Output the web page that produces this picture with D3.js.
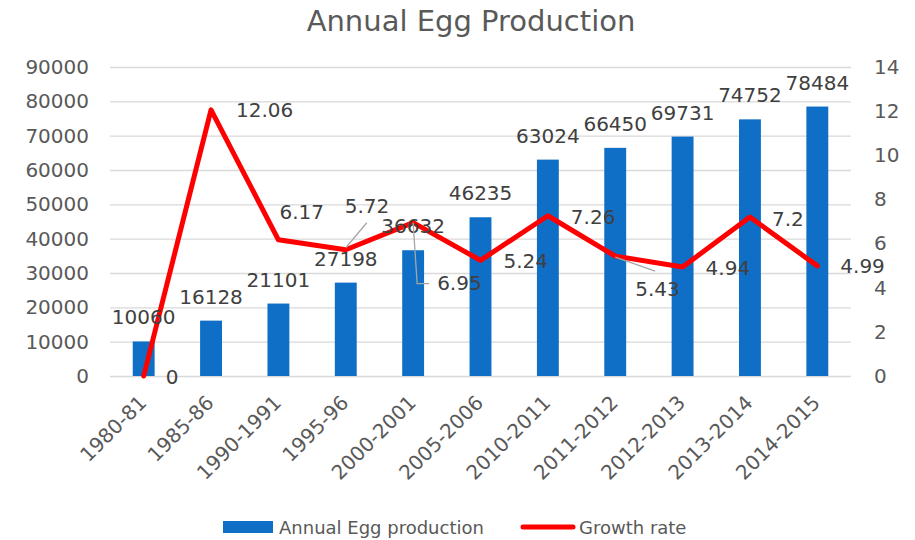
<!DOCTYPE html>
<html>
<head>
<meta charset="utf-8">
<script src="https://cdn.jsdelivr.net/npm/d3@7"></script>
<style>
  body { margin: 0; background: #fff; }
  svg text { font-family: "DejaVu Sans", sans-serif; }
</style>
</head>
<body>
<svg></svg>
<script>
var categories = ["1980-81", "1985-86", "1990-1991", "1995-96", "2000-2001", "2005-2006",
  "2010-2011", "2011-2012", "2012-2013", "2013-2014", "2014-2015"];
var eggProduction = [10060, 16128, 21101, 27198, 36632, 46235, 63024, 66450, 69731, 74752, 78484];
var growthRate = [0, 12.06, 6.17, 5.72, 6.95, 5.24, 7.26, 5.43, 4.94, 7.2, 4.99];
var leftTicks = [0, 10000, 20000, 30000, 40000, 50000, 60000, 70000, 80000, 90000];
var rightTicks = [0, 2, 4, 6, 8, 10, 12, 14];

var svgWidth = 915,
  svgHeight = 540,
  plotLeft = 110,
  plotRight = 851,
  plotTop = 67,
  plotBottom = 376;

// where each growth label sits relative to its point: [dx, dy, leader points]
var growthLabelPos = [
  [22, 1], [25, 0], [1, -28],
  [-1, -44, [[0, -2], [21, -27]]],
  [24, 60, [[0, 0], [4, 61], [16, 61]]],
  [23, 0], [23, 1],
  [20, 33, [[0, 1], [40, 15]]],
  [23, 1], [22, 2], [23, 0]
];

var svg = d3.select("svg").attr("width", svgWidth).attr("height", svgHeight);

var x = d3.scaleBand().domain(categories).range([plotLeft, plotRight]);
var yLeft = d3.scaleLinear().domain([0, 90000]).range([plotBottom, plotTop]);
var yRight = d3.scaleLinear().domain([0, 14]).range([plotBottom, plotTop]);
var barWidth = x.bandwidth() * 0.325;
var cx = function (i) { return x(categories[i]) + x.bandwidth() / 2; };

// title
svg.append("text")
  .attr("x", 471)
  .attr("y", 31)
  .attr("text-anchor", "middle")
  .attr("font-size", 29)
  .attr("fill", "#595959")
  .text("Annual Egg Production");

// gridlines
svg.append("g")
  .attr("transform", "translate(" + plotLeft + ",0)")
  .call(d3.axisLeft(yLeft).tickValues(leftTicks).tickSize(-(plotRight - plotLeft)).tickFormat(""))
  .call(function (g) { g.select(".domain").remove(); })
  .selectAll("line")
  .attr("stroke", "#d9d9d9")
  .attr("stroke-width", 1.3);

// left axis
var leftAxis = svg.append("g")
  .attr("transform", "translate(" + plotLeft + ",0)")
  .call(d3.axisLeft(yLeft).tickValues(leftTicks).tickSize(0).tickPadding(21).tickFormat(d3.format("d")));
leftAxis.select(".domain").remove();
leftAxis.selectAll("text").attr("font-size", 20).attr("fill", "#595959").attr("font-family", null);

// right axis
var rightAxis = svg.append("g")
  .attr("transform", "translate(" + plotRight + ",0)")
  .call(d3.axisRight(yRight).tickValues(rightTicks).tickSize(0).tickPadding(23));
rightAxis.select(".domain").remove();
rightAxis.selectAll("text").attr("font-size", 20).attr("fill", "#595959").attr("font-family", null);

// category labels, turned 45 degrees
svg.selectAll(".cat")
  .data(categories)
  .enter()
  .append("text")
  .attr("class", "cat")
  .attr("text-anchor", "end")
  .attr("font-size", 20)
  .attr("fill", "#595959")
  .attr("transform", function (d, i) {
    return "translate(" + (cx(i) + 4) + "," + (plotBottom + 28) + ") rotate(-45)";
  })
  .text(function (d) { return d; });

// bars
svg.selectAll(".bar")
  .data(eggProduction)
  .enter()
  .append("rect")
  .attr("class", "bar")
  .attr("x", function (d, i) { return cx(i) - barWidth / 2; })
  .attr("y", function (d) { return yLeft(d); })
  .attr("width", barWidth)
  .attr("height", function (d) { return plotBottom - yLeft(d); })
  .attr("fill", "#0f6fc6");

// growth line
var line = d3.line()
  .x(function (d, i) { return cx(i); })
  .y(function (d) { return yRight(d); });

svg.append("path")
  .datum(growthRate)
  .attr("d", line)
  .attr("fill", "none")
  .attr("stroke", "#ff0000")
  .attr("stroke-width", 5)
  .attr("stroke-linejoin", "round")
  .attr("stroke-linecap", "round");

// bar labels
svg.selectAll(".barLabel")
  .data(eggProduction)
  .enter()
  .append("text")
  .attr("class", "barLabel")
  .attr("x", function (d, i) { return cx(i); })
  .attr("y", function (d) { return yLeft(d) - 17; })
  .attr("text-anchor", "middle")
  .attr("font-size", 20)
  .attr("fill", "#404040")
  .text(function (d) { return d; });

// leader lines for moved growth labels
growthRate.forEach(function (d, i) {
  var pts = growthLabelPos[i][2];
  if (!pts) return;
  svg.append("polyline")
    .attr("points", pts.map(function (p) { return [cx(i) + p[0], yRight(d) + p[1]]; }).join(" "))
    .attr("fill", "none")
    .attr("stroke", "#a6a6a6")
    .attr("stroke-width", 1.3);
});

// growth labels
svg.selectAll(".rateLabel")
  .data(growthRate)
  .enter()
  .append("text")
  .attr("class", "rateLabel")
  .attr("x", function (d, i) { return cx(i) + growthLabelPos[i][0]; })
  .attr("y", function (d, i) { return yRight(d) + growthLabelPos[i][1]; })
  .attr("dy", "0.36em")
  .attr("font-size", 20)
  .attr("fill", "#404040")
  .text(function (d) { return d; });

// legend
var legend = svg.append("g").attr("font-size", 18).attr("fill", "#595959");
legend.append("rect").attr("x", 223).attr("y", 521).attr("width", 50).attr("height", 12).attr("fill", "#0f6fc6");
legend.append("text").attr("x", 279).attr("y", 534).text("Annual Egg production");
legend.append("line")
  .attr("x1", 523).attr("x2", 573).attr("y1", 527).attr("y2", 527)
  .attr("stroke", "#ff0000").attr("stroke-width", 5).attr("stroke-linecap", "round");
legend.append("text").attr("x", 579).attr("y", 534).text("Growth rate");
</script>
</body>
</html>
